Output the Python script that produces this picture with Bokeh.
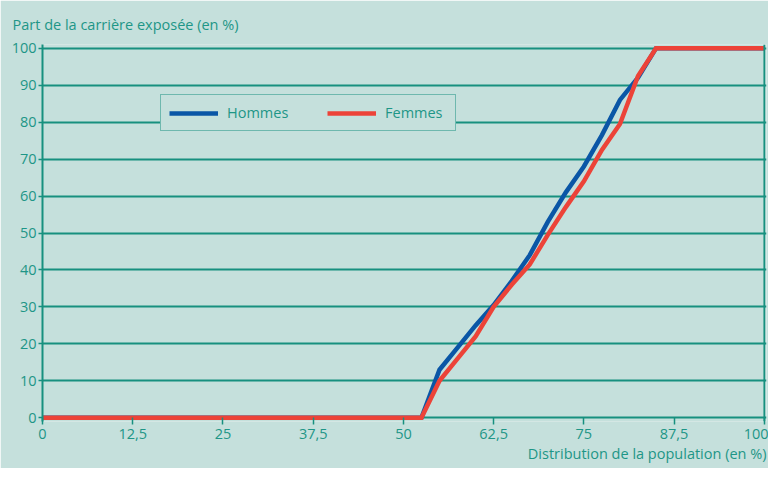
from bokeh.plotting import figure
from bokeh.models import Range1d, FixedTicker, Span, Legend, LegendItem, Title
from bokeh.embed import file_html
from bokeh.resources import INLINE

# ---- data ----
x_pop = [0, 2.5, 5, 7.5, 10, 12.5, 15, 17.5, 20, 22.5, 25, 27.5, 30, 32.5, 35, 37.5,
         40, 42.5, 45, 47.5, 50, 52.5, 55, 57.5, 60, 62.5, 65, 67.5, 70, 72.5, 75,
         77.5, 80, 82.5, 85, 87.5, 90, 92.5, 95, 97.5, 100]
hommes = [0, 0, 0, 0, 0, 0, 0, 0, 0, 0, 0, 0, 0, 0, 0, 0,
          0, 0, 0, 0, 0, 0, 13, 19, 25, 30.5, 37, 44, 53, 61, 68,
          76.5, 86, 92, 100, 100, 100, 100, 100, 100, 100]
femmes = [0, 0, 0, 0, 0, 0, 0, 0, 0, 0, 0, 0, 0, 0, 0, 0,
          0, 0, 0, 0, 0, 0, 10, 16, 22, 30, 36, 41.5, 49.5, 57, 64,
          72.5, 79.5, 92.5, 100, 100, 100, 100, 100, 100, 100]
series_names = ["Hommes", "Femmes"]
x_ticks = [0, 12.5, 25, 37.5, 50, 62.5, 75, 87.5, 100]
x_tick_labels = ["0", "12,5", "25", "37,5", "50", "62,5", "75", "87,5", "100"]
y_ticks = [0, 10, 20, 30, 40, 50, 60, 70, 80, 90, 100]
y_title = "Part de la carrière exposée (en %)"
x_title = "Distribution de la population (en %)"

# ---- style ----
BG = "#C5E0DC"
TXT = "#1E9687"
GRID = "#17907F"
BLUE = "#0A56A6"
RED = "#EC4338"
FONT = "Open Sans"
FS = "14.5px"

p = figure(width=768, height=468, title=None,
           x_range=Range1d(0, 100.3), y_range=Range1d(-1, 101),
           output_backend="svg", toolbar_location=None,
           min_border_left=42, min_border_right=2,
           min_border_top=44, min_border_bottom=47,
           background_fill_color=BG, border_fill_color=BG,
           outline_line_color=None)

# grid
p.xgrid.visible = False
p.ygrid.ticker = FixedTicker(ticks=y_ticks)
p.ygrid.grid_line_color = GRID
p.ygrid.grid_line_width = 1.8

# x axis
xa = p.xaxis[0]
xa.ticker = FixedTicker(ticks=x_ticks)
xa.major_label_overrides = {t: l for t, l in zip(x_ticks, x_tick_labels)}
xa.axis_line_color = None
xa.minor_tick_line_color = None
xa.major_tick_in = 4
xa.major_tick_out = 3
xa.major_tick_line_color = GRID
xa.major_tick_line_width = 1.5
xa.major_label_standoff = 4
xa.major_label_text_font = FONT
xa.major_label_text_font_size = FS
xa.major_label_text_color = TXT

# y axis
ya = p.yaxis[0]
ya.ticker = FixedTicker(ticks=y_ticks)
ya.axis_line_color = GRID
ya.axis_line_width = 2
ya.minor_tick_line_color = None
ya.major_tick_in = 0
ya.major_tick_out = 4
ya.major_tick_line_color = GRID
ya.major_tick_line_width = 1.5
ya.major_label_standoff = 2
ya.major_label_text_font = FONT
ya.major_label_text_font_size = FS
ya.major_label_text_color = TXT

# right border
p.add_layout(Span(location=100, dimension="height", line_color=GRID, line_width=1.8))

# series
r_h = p.line(x_pop, hommes, line_color=BLUE, line_width=4.5, line_join="miter")
r_f = p.line(x_pop, femmes, line_color=RED, line_width=4.5, line_join="miter")

legend = Legend(items=[LegendItem(label=series_names[0], renderers=[r_h]),
                       LegendItem(label=series_names[1], renderers=[r_f])],
                location=(118, 290), orientation="horizontal",
                padding=8, spacing=38, glyph_width=49, glyph_height=16,
                label_standoff=9, label_width=62,
                label_text_font=FONT, label_text_font_size=FS,
                label_text_color=TXT, border_line_color=GRID, border_line_width=1.8,
                background_fill_color=BG, background_fill_alpha=1.0, margin=0)
p.add_layout(legend)

# axis titles
p.add_layout(Title(text=y_title, align="left", offset=-30, standoff=22,
                   text_font=FONT, text_font_size=FS, text_font_style="normal",
                   text_color=TXT), "above")
p.add_layout(Title(text=x_title, align="right", standoff=0,
                   text_font=FONT, text_font_size=FS, text_font_style="normal",
                   text_color=TXT), "below")

open("out.html", "w").write(file_html(p, INLINE))
